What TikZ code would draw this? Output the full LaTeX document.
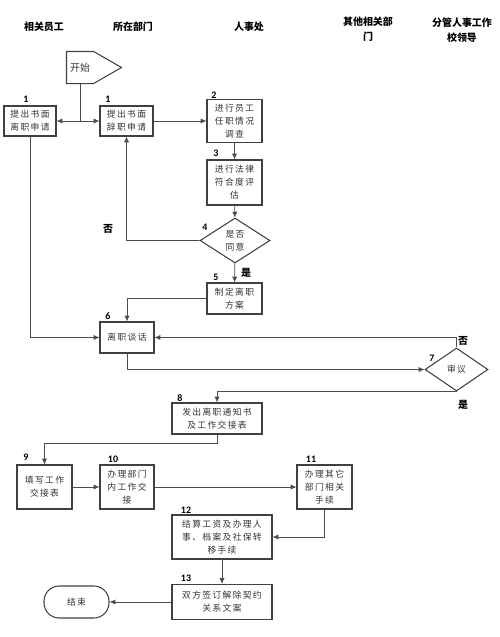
\documentclass[tikz,border=0pt]{standalone}
\usepackage{fontspec}
\setmainfont{Noto Sans CJK SC}
\newfontfamily\boxfont[LetterSpace=15]{Noto Sans CJK SC}
\newfontfamily\numfont{Carlito}
\usetikzlibrary{arrows.meta,shapes.geometric}
\begin{document}
\begin{tikzpicture}[x=0.03cm, y=-0.03cm,
    box/.style={draw=black!75, line width=0.9pt, align=center, inner sep=0pt, text=black!80, font=\boxfont\fontsize{7.5}{11}\selectfont},
    dia/.style={box, diamond},
    hd/.style={align=center, inner sep=0pt, font=\bfseries\fontsize{8.5}{13}\selectfont},
    num/.style={inner sep=0pt, font=\numfont\bfseries\fontsize{8.5}{10}\selectfont},
    yn/.style={inner sep=0pt, font=\bfseries\fontsize{8.5}{10}\selectfont},
    arr/.style={draw=black!70, line width=0.7pt, -{Latex[length=5pt,width=4.5pt]}},
    ln/.style={draw=black!70, line width=0.7pt}]
    \useasboundingbox (0,0) rectangle (500,637);

    \node[hd] (h1) at (44,27) {相关员工};
    \node[hd] (h2) at (133,27) {所在部门};
    \node[hd] (h3) at (249,27) {人事处};
    \node[hd] (h4) at (368,29) {其他相关部\\门};
    \node[hd] (h5) at (462,30) {分管人事工作\\校领导};

    \node[box, draw=none, minimum width=0.78cm, minimum height=0.93cm, font=\fontsize{8.5}{10}\selectfont] (start) at (80,67.5) {开始};
    \draw[draw=black!75, line width=0.9pt] (start.north west) -- (start.north east) -- ([xshift=0.84cm]start.east) -- (start.south east) -- (start.south west) -- cycle;

    \node[box, minimum width=1.56cm, minimum height=0.9cm] (b1a) at (30,121) {提出书面\\离职申请};
    \node[box, minimum width=1.59cm, minimum height=0.9cm] (b1b) at (126.5,121) {提出书面\\辞职申请};
    \node[box, minimum width=1.65cm, minimum height=1.29cm] (b2) at (234.5,121) {进行员工\\任职情况\\调查};
    \node[box, minimum width=1.65cm, minimum height=1.35cm] (b3) at (234.5,182.5) {进行法律\\符合度评\\估};
    \node[dia, minimum width=2.1cm, minimum height=1.35cm] (d4) at (235,240.5) {是否\\同意};
    \node[box, minimum width=1.65cm, minimum height=0.93cm] (b5) at (234.5,298.5) {制定离职\\方案};
    \node[box, minimum width=1.62cm, minimum height=0.93cm] (b6) at (127,337.5) {离职谈话};
    \node[dia, minimum width=1.89cm, minimum height=1.29cm] (d7) at (456.5,369.5) {审议};
    \node[box, minimum width=2.7cm, minimum height=0.93cm] (b8) at (217,418.5) {发出离职通知书\\及工作交接表};
    \node[box, minimum width=1.65cm, minimum height=1.32cm] (b9) at (44.5,487) {填写工作\\交接表};
    \node[box, minimum width=1.62cm, minimum height=1.32cm] (b10) at (127,487) {办理部门\\内工作交\\接};
    \node[box, minimum width=1.65cm, minimum height=1.32cm] (b11) at (324.5,487) {办理其它\\部门相关\\手续};
    \node[box, minimum width=3cm, minimum height=1.32cm] (b12) at (222,537) {结算工资及办理人\\事、档案及社保转\\移手续};
    \node[box, minimum width=3cm, minimum height=1.05cm] (b13) at (222,602) {双方签订解除契约\\关系文案};
    \node[box, rounded corners=13pt, minimum width=1.95cm, minimum height=0.96cm] (end) at (76.5,602) {结束};

    \node[num] (n1a) at (26,99) {1}; \node[num] (n1b) at (108,99) {1};
    \node[num] (n2) at (214,95) {2}; \node[num] (n3) at (216,153) {3};
    \node[num] (n4) at (205,227) {4}; \node[num] (n5) at (216,277) {5};
    \node[num] (n6) at (108,316) {6}; \node[num] (n7) at (432,358) {7};
    \node[num] (n8) at (180,398) {8}; \node[num] (n9) at (26,457) {9};
    \node[num] (n10) at (113,459) {10}; \node[num] (n11) at (311,459) {11};
    \node[num] (n12) at (186,510) {12}; \node[num] (n13) at (186,578) {13};

    \node[yn] (no4) at (108,229) {否}; \node[yn] (yes4) at (246,273) {是};
    \node[yn] (no7) at (463,341) {否}; \node[yn] (yes7) at (463,405) {是};

    \coordinate (fork) at (80,121);
    \draw[ln] (start) -- (fork);
    \draw[arr] (fork) -- (b1a);
    \draw[arr] (fork) -- (b1b);
    \draw[arr] (b1b) -- (b2);
    \draw[arr] (b2) -- (b3);
    \draw[arr] (b3) -- (d4);
    \draw[arr] (d4.west) -| (b1b.south);
    \draw[arr] (d4) -- (b5);
    \draw[arr] (b5.west) -| (b6.north);
    \draw[arr] (b1a.south) |- (b6.west);
    \draw[arr] (d7.north) |- (b6.east);
    \draw[arr] (b6.south) |- (d7.west);
    \draw[arr] (d7.south) -| (b8.north);
    \draw[arr] (b8.south) -- ++(0,9) -| (b9.north);
    \draw[arr] (b9) -- (b10);
    \draw[arr] (b10) -- (b11);
    \draw[arr] (b11.south) |- (b12.east);
    \draw[arr] (b12) -- (b13);
    \draw[arr] (b13) -- (end);
\end{tikzpicture}
\end{document}
